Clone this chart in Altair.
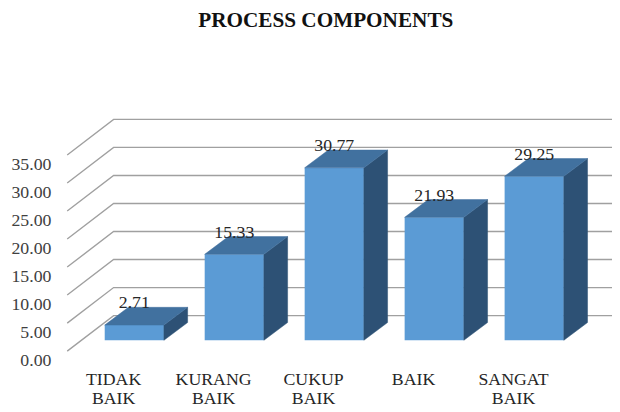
import altair as alt
import pandas as pd

# ---- data ----
categories = ["TIDAK BAIK", "KURANG BAIK", "CUKUP BAIK", "BAIK", "SANGAT BAIK"]
label_lines = [["TIDAK", "BAIK"], ["KURANG", "BAIK"], ["CUKUP", "BAIK"], ["BAIK"], ["SANGAT", "BAIK"]]
values = [2.71, 15.33, 30.77, 21.93, 29.25]
value_labels = ["2.71", "15.33", "30.77", "21.93", "29.25"]
tick_values = [0, 5, 10, 15, 20, 25, 30, 35]
tick_labels = ["0.00", "5.00", "10.00", "15.00", "20.00", "25.00", "30.00", "35.00"]

# ---- layout (pixels) ----
W, H = 604, 344
PX = 5.68            # pixels per value unit
Y_DOMAIN = [-62 / PX, 282 / PX]
FIRST_CENTER, STEP, HALF = 128.0, 101.3, 30.0
DEPTH_X, DEPTH_Y = 24.0, 18.0
FLOOR_X, FLOOR_DROP = 60.0, 11.0
WALL_X, WALL_UP = 107.0, 25.0
GRID_END = 612.0
TICK_X = 44.0

FRONT, TOP, SIDE = "#5b9bd5", "#41719f", "#2d5175"
GRID = "#a0a0a0"
FONT = "Liberation Serif, Times New Roman, serif"

xs = alt.Scale(domain=[0, W], nice=False, zero=False)
ys = alt.Scale(domain=Y_DOMAIN, nice=False, zero=False)

centers = [FIRST_CENTER + i * STEP for i in range(len(categories))]
dyu = DEPTH_Y / PX

front_df = pd.DataFrame({
    "cat": categories,
    "xl": [c - HALF for c in centers],
    "xr": [c + HALF for c in centers],
    "base": [0.0] * len(values),
    "v": values,
})

top_rows, side_rows = [], []
for cat, c, v in zip(categories, centers, values):
    xl, xr = c - HALF, c + HALF
    top_rows.append({"cat": cat, "y": v, "xa": xl, "xb": xr})
    top_rows.append({"cat": cat, "y": v + dyu, "xa": xl + DEPTH_X, "xb": xr + DEPTH_X})
    side_rows.append({"cat": cat, "x": xr, "ya": 0.0, "yb": v})
    side_rows.append({"cat": cat, "x": xr + DEPTH_X, "ya": dyu, "yb": v + dyu})
top_df = pd.DataFrame(top_rows)
side_df = pd.DataFrame(side_rows)

grid_rows = []
for t in tick_values:
    grid_rows.append({"t": t, "x": FLOOR_X, "y": t - FLOOR_DROP / PX})
    grid_rows.append({"t": t, "x": WALL_X, "y": t + WALL_UP / PX})
    grid_rows.append({"t": t, "x": GRID_END, "y": t + WALL_UP / PX})
grid_df = pd.DataFrame(grid_rows)

tick_df = pd.DataFrame({
    "y": [t - FLOOR_DROP / PX for t in tick_values],
    "x": [TICK_X] * len(tick_values),
    "label": tick_labels,
})

val_df = pd.DataFrame({
    "x": centers,
    "y": [v + dyu for v in values],
    "label": value_labels,
})

cat_df = pd.DataFrame({
    "x": [c - 21 for c in centers],
    "y": [-45.0 / PX] * len(categories),
    "label": label_lines,
})

grid = alt.Chart(grid_df).mark_line(color=GRID, strokeWidth=1.4).encode(
    x=alt.X("x:Q", scale=xs, axis=None),
    y=alt.Y("y:Q", scale=ys, axis=None),
    detail="t:N",
    order="x:Q",
)

front = alt.Chart(front_df).mark_rect(color=FRONT).encode(
    x=alt.X("xl:Q", scale=xs, axis=None),
    x2="xr:Q",
    y=alt.Y("base:Q", scale=ys, axis=None),
    y2="v:Q",
)

top = alt.Chart(top_df).mark_area(orient="horizontal", color=TOP, stroke=TOP, strokeWidth=0.5).encode(
    y=alt.Y("y:Q", scale=ys, axis=None),
    x=alt.X("xa:Q", scale=xs, axis=None, stack=None),
    x2="xb:Q",
    detail="cat:N",
)

side = alt.Chart(side_df).mark_area(orient="vertical", color=SIDE, stroke=SIDE, strokeWidth=0.5).encode(
    x=alt.X("x:Q", scale=xs, axis=None),
    y=alt.Y("ya:Q", scale=ys, axis=None, stack=None),
    y2="yb:Q",
    detail="cat:N",
)

ticks = alt.Chart(tick_df).mark_text(
    font=FONT, fontSize=18, color="#404040", align="right", baseline="middle", dy=10
).encode(
    x=alt.X("x:Q", scale=xs, axis=None),
    y=alt.Y("y:Q", scale=ys, axis=None),
    text="label:N",
)

vals = alt.Chart(val_df).mark_text(
    font=FONT, fontSize=18, color="#262626", align="center", baseline="alphabetic", dy=1
).encode(
    x=alt.X("x:Q", scale=xs, axis=None),
    y=alt.Y("y:Q", scale=ys, axis=None),
    text="label:N",
)

cats = alt.Chart(cat_df).mark_text(
    font=FONT, fontSize=18, color="#262626", align="center", baseline="alphabetic", lineHeight=20
).encode(
    x=alt.X("x:Q", scale=xs, axis=None),
    y=alt.Y("y:Q", scale=ys, axis=None),
    text="label",
)

chart = alt.layer(grid, front, side, top, vals, ticks, cats).properties(
    width=W,
    height=H,
    autosize=alt.AutoSizeParams(type="none"),
    padding={"left": 0, "top": 52, "right": 8, "bottom": 8},
    background="white",
    title=alt.Title(
        "PROCESS COMPONENTS", font="Liberation Serif", fontSize=21.5, fontWeight="bold",
        color="#111111", anchor="middle", offset=31, dx=20,
    ),
).configure_view(stroke=None)

chart.save("out.html", embed_options={"renderer": "svg", "actions": False})
